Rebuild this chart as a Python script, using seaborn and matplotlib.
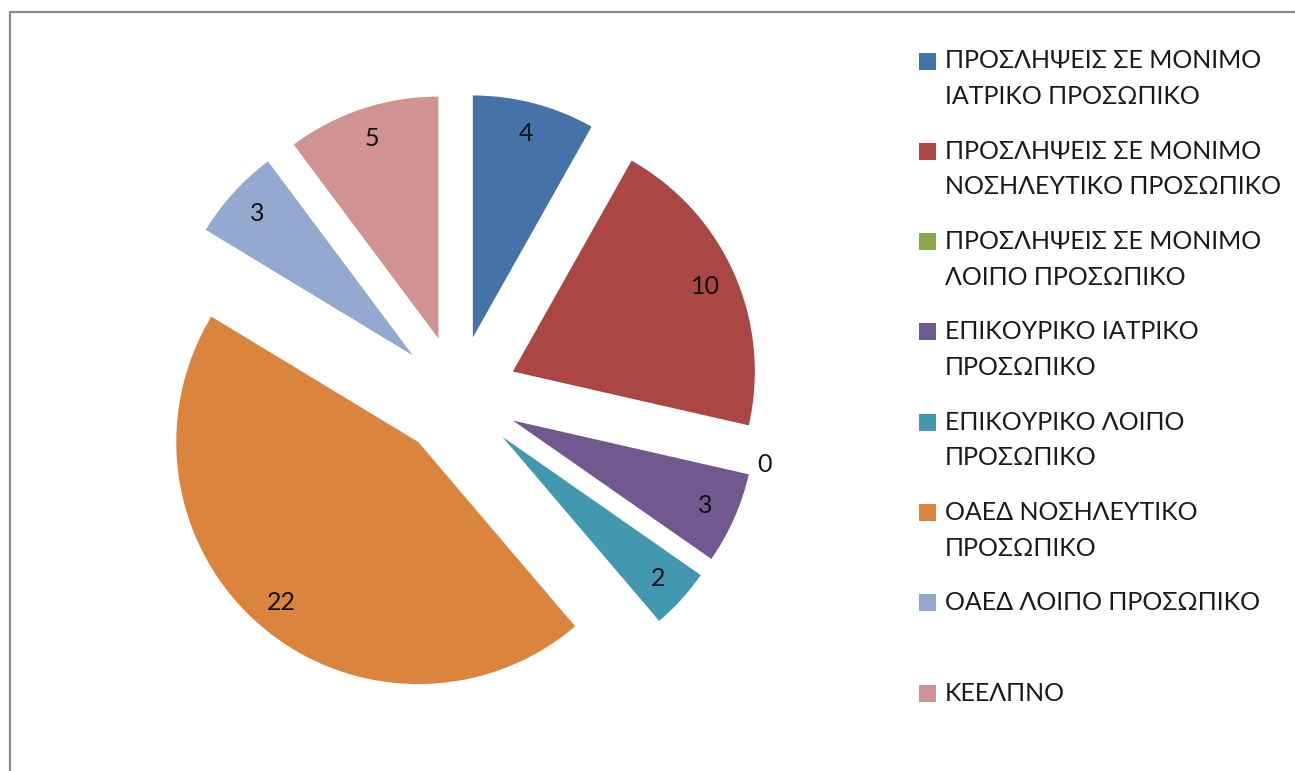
import matplotlib
matplotlib.use('Agg')
import matplotlib.pyplot as plt
import seaborn as sns
from matplotlib.patches import Rectangle

# data
categories = [
    "ΠΡΟΣΛΗΨΕΙΣ ΣΕ ΜΟΝΙΜΟ\nΙΑΤΡΙΚΟ ΠΡΟΣΩΠΙΚΟ",
    "ΠΡΟΣΛΗΨΕΙΣ ΣΕ ΜΟΝΙΜΟ\nΝΟΣΗΛΕΥΤΙΚΟ ΠΡΟΣΩΠΙΚΟ",
    "ΠΡΟΣΛΗΨΕΙΣ ΣΕ ΜΟΝΙΜΟ\nΛΟΙΠΟ ΠΡΟΣΩΠΙΚΟ",
    "ΕΠΙΚΟΥΡΙΚΟ ΙΑΤΡΙΚΟ\nΠΡΟΣΩΠΙΚΟ",
    "ΕΠΙΚΟΥΡΙΚΟ ΛΟΙΠΟ\nΠΡΟΣΩΠΙΚΟ",
    "ΟΑΕΔ ΝΟΣΗΛΕΥΤΙΚΟ\nΠΡΟΣΩΠΙΚΟ",
    "ΟΑΕΔ ΛΟΙΠΟ ΠΡΟΣΩΠΙΚΟ",
    "ΚΕΕΛΠΝΟ",
]
values = [4, 10, 0, 3, 2, 22, 3, 5]
colors = ['#4572A7', '#AA4643', '#89A54E', '#71588F',
          '#4198AF', '#DB843D', '#93A9CF', '#D19392']

sns.set_theme(style='white')
plt.rcParams['font.family'] = ['Lato', 'DejaVu Sans']

W, H = 1295, 771
fig = plt.figure(figsize=(W / 100, H / 100), dpi=100)
ax = fig.add_axes([0, 0, 1, 1])

total = sum(values)
FS = 18
R = 242


def show_value(pct):
    v = int(round(pct * total / 100.0))
    return str(v) if v else ''


# zero slices get their value as an outside label, like Excel does
outside = ['0' if v == 0 else '' for v in values]

# explode is in data units here (axes units = pixels)
ax.pie(values, colors=sns.color_palette(colors), explode=[0.25 * R] * len(values),
       startangle=90, counterclock=False, center=(457.5, 375), radius=R,
       labels=outside, labeldistance=1.02, autopct=show_value, pctdistance=0.87,
       wedgeprops=dict(linewidth=0), textprops=dict(fontsize=FS, color='#111111'))
ax.set_xlim(0, W)
ax.set_ylim(0, H)
ax.set_aspect('equal')
ax.axis('off')

# legend, Excel style: square marker aligned with first line of label
for i, (lab, col) in enumerate(zip(categories, colors)):
    y0 = H - (61 + 90.3 * i)
    ax.add_patch(Rectangle((919, y0 - 8.5), 17, 17, facecolor=col,
                           edgecolor='none', clip_on=False))
    for j, line in enumerate(lab.split('\n')):
        ax.text(945, y0 - 35.5 * j, line, fontsize=FS, color='#1a1a1a',
                ha='left', va='center')

# chart area border (right and bottom edges are cut off in the original)
fig.add_artist(Rectangle((10 / W, -0.05), 1.1, (H - 12) / H + 0.05,
                         transform=fig.transFigure, fill=False,
                         edgecolor='#8c8c8c', linewidth=1.6))

fig.savefig('out.png', dpi=100)
